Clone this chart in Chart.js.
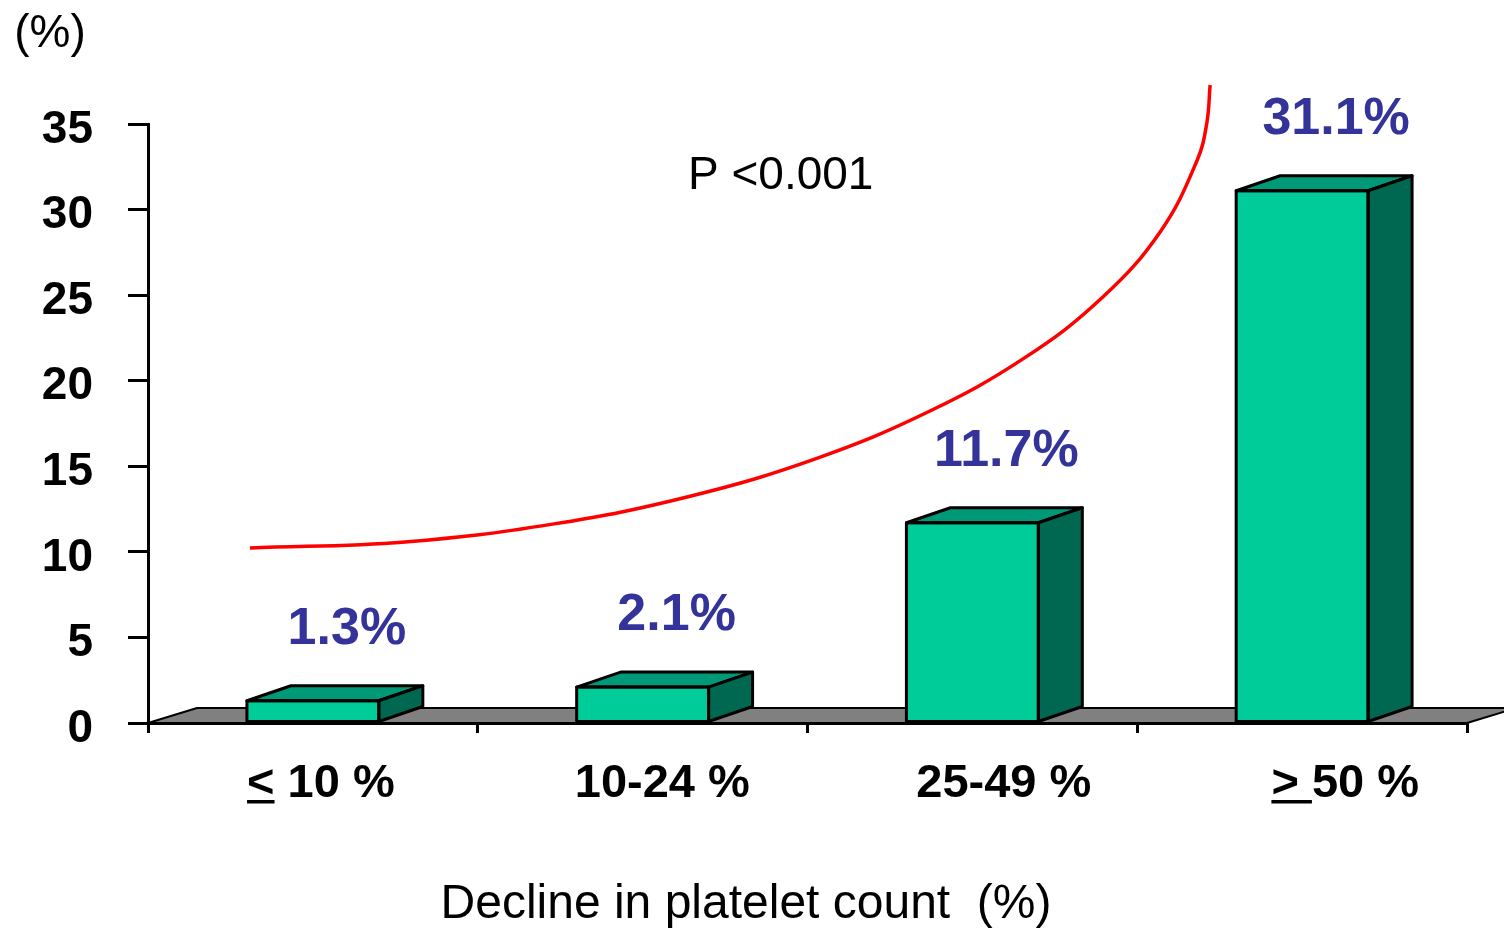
<!DOCTYPE html>
<html>
<head>
<meta charset="utf-8">
<script src="https://cdn.jsdelivr.net/npm/chart.js@4/dist/chart.umd.min.js"></script>
<style>
  html, body { margin: 0; padding: 0; background: #ffffff; }
  #wrap { width: 1504px; height: 930px; position: relative; }
</style>
</head>
<body>
<div id="wrap"><canvas id="c"></canvas></div>
<script>
// Categories: decline in platelet count
const categories = ['< 10 %', '10-24 %', '25-49 %', '> 50 %'];
// Part of each category label that is underlined (turns < / > into ≤ / ≥)
const underlinedPrefix = ['<', '', '', '> '];
// Rate per category (%)
const rates = [1.3, 2.1, 11.7, 31.1];
const rateLabels = ['1.3%', '2.1%', '11.7%', '31.1%'];
// Y axis ticks
const yTickValues = [0, 5, 10, 15, 20, 25, 30, 35];
// Hand-drawn trend curve, in (category index, %) units
const trendX = [-0.191, 0.280, 0.727, 1.144, 1.526, 1.865, 2.157, 2.394, 2.571, 2.682, 2.711, 2.721];
const trendY = [10.23, 10.58, 11.62, 13.25, 15.45, 18.17, 21.32, 24.86, 28.74, 32.90, 35.06, 37.28];

const FONT = '"Liberation Sans", Arial, Helvetica, sans-serif';
const FRONT = '#00CC99', TOP = '#009977', SIDE = '#006850';
const BAR_DX = 44, BAR_DY = -15;      // bar depth
const FLOOR_DX = 49, FLOOR_DY = -15;  // floor depth

// Grey floor behind the bars, drawn under the axes
const floorPlugin = {
  id: 'floor',
  beforeDraw(chart) {
    const ctx = chart.ctx, a = chart.chartArea;
    const yB = chart.scales.y.getPixelForValue(0);
    ctx.save();
    ctx.beginPath();
    ctx.moveTo(a.left, yB);
    ctx.lineTo(a.left + FLOOR_DX, yB + FLOOR_DY);
    ctx.lineTo(a.right + FLOOR_DX, yB + FLOOR_DY);
    ctx.lineTo(a.right, yB);
    ctx.closePath();
    ctx.fillStyle = '#808080';
    ctx.fill();
    ctx.lineWidth = 2;
    ctx.strokeStyle = '#000';
    ctx.lineJoin = 'round';
    ctx.stroke();
    ctx.restore();
  }
};

// Top and side faces of each bar
const boxPlugin = {
  id: 'box3d',
  afterDatasetDraw(chart, args) {
    if (args.index !== 0) return;
    const ctx = chart.ctx;
    const meta = chart.getDatasetMeta(0);
    ctx.save();
    ctx.lineWidth = 3;
    ctx.strokeStyle = '#000';
    ctx.lineJoin = 'round';
    meta.data.forEach(bar => {
      const xL = bar.x - bar.width / 2, xR = bar.x + bar.width / 2;
      const yT = bar.y, yB = bar.base;
      // top face
      ctx.beginPath();
      ctx.moveTo(xL, yT);
      ctx.lineTo(xL + BAR_DX, yT + BAR_DY);
      ctx.lineTo(xR + BAR_DX, yT + BAR_DY);
      ctx.lineTo(xR, yT);
      ctx.closePath();
      ctx.fillStyle = TOP;
      ctx.fill();
      ctx.stroke();
      // side face
      ctx.beginPath();
      ctx.moveTo(xR, yT);
      ctx.lineTo(xR + BAR_DX, yT + BAR_DY);
      ctx.lineTo(xR + BAR_DX, yB + BAR_DY);
      ctx.lineTo(xR, yB);
      ctx.closePath();
      ctx.fillStyle = SIDE;
      ctx.fill();
      ctx.stroke();
      // front outline
      ctx.strokeRect(xL, yT, xR - xL, yB - yT);
    });
    ctx.restore();
  }
};

// Value labels, category labels and titles
const textPlugin = {
  id: 'texts',
  afterDraw(chart) {
    const ctx = chart.ctx;
    const xs = chart.scales.x, ys = chart.scales.y;
    const meta = chart.getDatasetMeta(0);
    ctx.save();

    // values above the bars
    ctx.font = 'bold 52px ' + FONT;
    ctx.fillStyle = '#333399';
    ctx.textAlign = 'center';
    ctx.textBaseline = 'middle';
    meta.data.forEach((bar, i) => {
      ctx.fillText(rateLabels[i], bar.x + 34, ys.getPixelForValue(rates[i]) - 71);
    });

    // category labels, nudged right following the perspective
    ctx.font = 'bold 47px ' + FONT;
    ctx.fillStyle = '#000';
    ctx.textBaseline = 'alphabetic';
    ctx.textAlign = 'left';
    categories.forEach((lab, i) => {
      const w = ctx.measureText(lab).width;
      const cx = xs.getPixelForValue(i) + 8 + 11.7 * i;
      const x0 = cx - w / 2;
      const baseY = 797;
      ctx.fillText(lab, x0, baseY);
      const pre = underlinedPrefix[i];
      if (pre) {
        const uw = ctx.measureText(pre).width;
        ctx.fillRect(x0, baseY + 3, uw, 3.5);
      }
    });

    // axis titles
    ctx.font = '48px ' + FONT;
    ctx.textAlign = 'center';
    ctx.fillText('Decline in platelet count  (%)', 746, 918);
    ctx.font = '46px ' + FONT;
    ctx.fillText('(%)', 50, 47);

    // significance note
    ctx.textAlign = 'left';
    ctx.fillText('P <0.001', 688, 189);
    ctx.restore();
  }
};

new Chart(document.getElementById('c'), {
  type: 'bar',
  data: {
    labels: categories,
    datasets: [
      {
        type: 'bar',
        data: rates,
        backgroundColor: FRONT,
        borderWidth: 0,
        categoryPercentage: 1,
        barPercentage: 0.4,
        grouped: false,
        xAxisID: 'x',
        yAxisID: 'y',
        order: 2
      },
      {
        type: 'line',
        data: trendX.map((x, i) => ({ x: x, y: trendY[i] })),
        xAxisID: 'xCurve',
        yAxisID: 'y',
        borderColor: '#FF0000',
        borderWidth: 3.5,
        borderCapStyle: 'butt',
        pointRadius: 0,
        fill: false,
        tension: 0.4,
        clip: false,
        order: 1
      }
    ]
  },
  options: {
    responsive: true,
    maintainAspectRatio: false,
    animation: false,
    events: [],
    layout: { padding: { left: 0, top: 124, right: 37, bottom: 0 } },
    plugins: {
      legend: { display: false },
      tooltip: { enabled: false },
      title: { display: false }
    },
    scales: {
      x: {
        type: 'category',
        position: 'bottom',
        offset: true,
        grid: {
          offset: true,
          drawOnChartArea: false,
          drawTicks: true,
          tickLength: 10,
          color: '#000',
          lineWidth: 3
        },
        border: { display: true, color: '#000', width: 3 },
        ticks: { display: false },
        afterFit(scale) { scale.height = 207; }
      },
      xCurve: {
        type: 'linear',
        position: 'bottom',
        display: false,
        offset: false,
        grid: { offset: false },
        min: -0.5,
        max: 3.5
      },
      y: {
        type: 'linear',
        position: 'left',
        min: 0,
        max: 35,
        afterBuildTicks(scale) { scale.ticks = yTickValues.map(v => ({ value: v })); },
        grid: {
          drawOnChartArea: false,
          drawTicks: true,
          tickLength: 20,
          color: '#000',
          lineWidth: 3
        },
        border: { display: true, color: '#000', width: 3 },
        ticks: {
          color: '#000',
          font: { family: FONT, size: 46, weight: 'bold' },
          padding: 35,
          labelOffset: 6
        },
        afterFit(scale) { scale.width = 148; }
      }
    }
  },
  plugins: [floorPlugin, boxPlugin, textPlugin]
});
</script>
</body>
</html>
